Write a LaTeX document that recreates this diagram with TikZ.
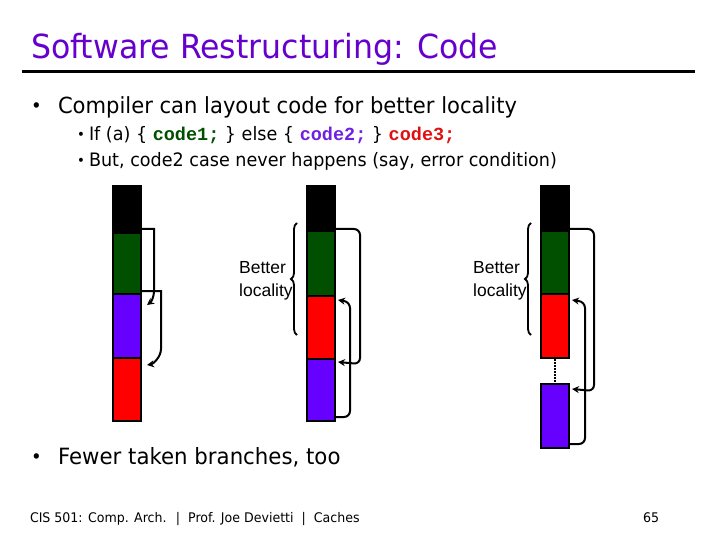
\documentclass[tikz,border=0pt]{standalone}
\usepackage{fontspec}
\setmainfont{DejaVu Sans}[FakeStretch=0.95]
\newfontfamily\arialf{Liberation Sans}
\newfontfamily\monof{Liberation Mono}
\usetikzlibrary{arrows.meta,decorations.pathreplacing}
\definecolor{titlec}{RGB}{102,0,204}
\definecolor{dgreen}{RGB}{0,80,0}
\definecolor{vpurple}{RGB}{102,0,255}
\definecolor{cred}{RGB}{255,0,0}
\definecolor{codegreen}{RGB}{0,80,0}
\definecolor{codepurple}{RGB}{112,32,224}
\definecolor{codered}{RGB}{224,16,16}
\tikzset{
  txt/.style={anchor=base west, inner sep=0pt, outer sep=0pt},
  blk/.style={draw=black, line width=2pt, minimum width=28pt, inner sep=0pt, anchor=north west},
  arr/.style={line width=2pt, -{Stealth[length=7pt,width=7pt]}},
  brc/.style={decorate, decoration={brace, amplitude=6pt}, line width=1.8pt},
  lab/.style={anchor=west, align=left, inner sep=0pt, font=\arialf\fontsize{17.5}{23}\selectfont},
}
\newcommand{\cw}[2]{{\monof\bfseries\color{#1}#2}}
\begin{document}
\begin{tikzpicture}[x=1pt,y=-1pt]
\useasboundingbox (0,0) rectangle (720,540);
% title
\node[txt, text=titlec, font=\fontsize{33.2}{36}\selectfont] (title) at (31,59) {Software Restructuring: Code};
\coordinate (rulel) at (22,72);
\coordinate (ruler) at (695,72);
\draw[line width=3pt] (rulel) -- (ruler);
% bullets
\node[txt, font=\fontsize{19}{24}\selectfont] (d1) at (31,113) {•};
\node[txt, font=\fontsize{22.2}{27}\selectfont] (t1) at (58,114) {Compiler can layout code for better locality};
\node[txt, font=\fontsize{14}{18}\selectfont] (d2) at (77,140) {•};
\node[txt, font=\fontsize{18.5}{22}\selectfont] (t2) at (89,141) {If (a) \{ \cw{codegreen}{code1;} \} else \{ \cw{codepurple}{code2;} \} \cw{codered}{code3;}};
\node[txt, font=\fontsize{14}{18}\selectfont] (d3) at (77,166) {•};
\node[txt, font=\fontsize{18.5}{22}\selectfont] (t3) at (89,167) {But, code2 case never happens (say, error condition)};
\node[txt, font=\fontsize{19}{24}\selectfont] (d4) at (31,463) {•};
\node[txt, font=\fontsize{22.4}{27}\selectfont] (t4) at (58,464) {Fewer taken branches, too};
% footer
\node[txt, font=\fontsize{13.25}{16}\selectfont] (foot) at (30,522) {CIS 501: Comp. Arch. \ | \ Prof. Joe Devietti \ | \ Caches};
\node[txt, font=\fontsize{13.25}{16}\selectfont] (pg) at (643,522) {65};
% column 1
\node[blk, fill=black, minimum height=47pt] (a1) at (112,185) {};
\node[blk, fill=dgreen, minimum height=61pt] (a2) at (112,232) {};
\node[blk, fill=vpurple, minimum height=64pt] (a3) at (112,293) {};
\node[blk, fill=cred, minimum height=63pt] (a4) at (112,357) {};
% column 2
\node[blk, fill=black, minimum height=45pt] (b1) at (306,185) {};
\node[blk, fill=dgreen, minimum height=65pt] (b2) at (306,230) {};
\node[blk, fill=cred, minimum height=63pt] (b3) at (306,295) {};
\node[blk, fill=vpurple, minimum height=62pt] (b4) at (306,358) {};
% column 3
\node[blk, fill=black, minimum height=45pt] (c1) at (540,185) {};
\node[blk, fill=dgreen, minimum height=63pt] (c2) at (540,230) {};
\node[blk, fill=cred, minimum height=64pt] (c3) at (540,293) {};
\node[blk, fill=vpurple, minimum height=64pt] (c4) at (540,383) {};
\draw[line width=2.5pt, dash pattern=on 1.5pt off 1.5pt] (c3.south) -- (c4.north);
% column 1 branches
\draw[arr] ([yshift=5pt]a1.south east) -- ++(12,0) -- ++(0,61)
  .. controls +(0,8) and +(4,-3) .. ([shift={(5pt,-10pt)}]a2.south east);
\draw[arr] ([yshift=4pt]a2.south east) -- ++(19,0) -- ++(0,58)
  .. controls +(0,8) and +(6,-1) .. ([shift={(5pt,-6pt)}]a3.south east);
% column 2 branches
\draw[arr, rounded corners=6pt] ([yshift=3pt]b1.south east) -- ++(24,0) -- ++(0,135) -- ([shift={(2pt,-4pt)}]b4.north east);
\draw[arr, rounded corners=6pt] ([yshift=5pt]b4.south east) -- ++(14,0) -- ++(0,-115) -- ([shift={(2pt,-5pt)}]b3.north east);
% column 3 branches
\draw[arr, rounded corners=6pt] ([yshift=3pt]c1.south east) -- ++(24,0) -- ++(0,162) -- ([shift={(2pt,-6pt)}]c4.north east);
\draw[arr, rounded corners=6pt] ([yshift=5pt]c4.south east) -- ++(15,0) -- ++(0,-142) -- ([shift={(2pt,-7pt)}]c3.north east);
% braces and labels
\coordinate (br1a) at (297,335);
\coordinate (br1b) at (297,223);
\coordinate (br2a) at (531,335);
\coordinate (br2b) at (531,223);
\draw[brc] (br1a) -- (br1b);
\draw[brc] (br2a) -- (br2b);
\node[lab] (lab1) at (239,281) {Better\\locality};
\node[lab] (lab2) at (473,281) {Better\\locality};
\end{tikzpicture}
\end{document}
